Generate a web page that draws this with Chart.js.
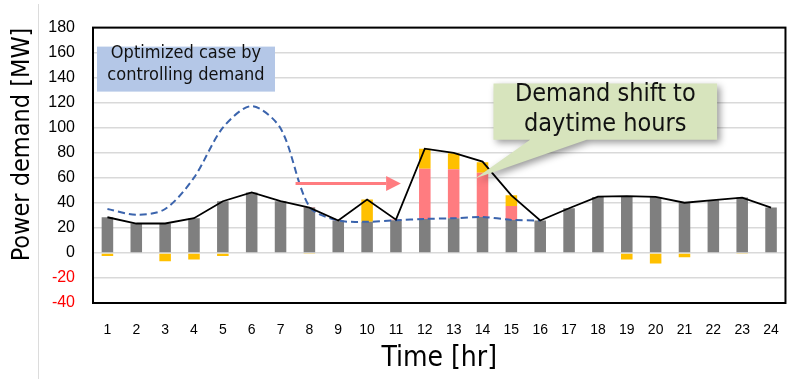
<!DOCTYPE html>
<html lang="en">
<head>
<meta charset="UTF-8" />
<title>Power demand - optimized case</title>
<script src="https://cdn.jsdelivr.net/npm/chart.js"></script>
<style>
  html, body { margin: 0; padding: 0; background: #fff; }
  #wrap { width: 798px; height: 379px; }
</style>
</head>
<body>
<div id="wrap"><canvas id="demandChart" width="798" height="379"></canvas></div>
<script>
  // values
  const hours = ['1','2','3','4','5','6','7','8','9','10','11','12','13','14','15','16','17','18','19','20','21','22','23','24'];
  const baseDemand = [28.5, 23.5, 23.5, 27.7, 41.3, 48.3, 41.3, 36.2, 25.9, 24.9, 26.1, 27.2, 27.7, 28.7, 26.4, 25.9, 35.7, 44.7, 45.2, 44.7, 40.1, 42.1, 44.2, 36.2];
  const shiftedDemand = [0, 0, 0, 0, 0, 0, 0, 0.4, 0.3, 0, 0.6, 40.1, 39.1, 35.3, 11.1, 0, 0, 0, 0, 0, 0, 0, 0, 0];
  const adjustDemand = [-2.5, 0, -6.7, -5.3, -2.5, 0, 0, -0.5, 0, 17.7, 0, 16.0, 12.9, 8.5, 8.5, 0, 0, 0, -5.3, -8.4, -3.5, 0, -0.5, 0];
  const optimizedDemand = [28.5, 23.5, 23.5, 27.7, 41.3, 48.3, 41.3, 36.2, 25.9, 42.6, 26.6, 83.3, 79.9, 73.0, 46.0, 25.9, 35.7, 45.0, 45.3, 44.7, 40.1, 42.1, 44.2, 36.2];
  const originalDemand = [35.1, 30.5, 35.1, 60.1, 100.0, 117.3, 99.5, 37.0, 26.0, 24.9, 26.1, 27.2, 27.7, 28.7, 26.4, 25.9, null, null, null, null, null, null, null, null];

  const yTitle = 'Power demand [MW]';
  const xTitle = 'Time [hr]';
  const caseLabel = ['Optimized case by', 'controlling demand'];
  const calloutLabel = ['Demand shift to', 'daytime hours'];

  const titleFont = "'DejaVu Sans Condensed', 'DejaVu Sans', sans-serif";
  const tickFont = "'Liberation Sans', Arial, sans-serif";

  // text boxes, arrow and plot frame
  const decorations = {
    id: 'decorations',
    beforeDraw(chart) {
      const ctx = chart.ctx;
      ctx.save();
      ctx.strokeStyle = '#dcdcdc';
      ctx.lineWidth = 1;
      ctx.beginPath();
      ctx.moveTo(38.5, 4);
      ctx.lineTo(38.5, 379);
      ctx.stroke();
      ctx.restore();
    },
    afterDatasetsDraw(chart) {
      const { ctx, chartArea: a, scales: { x, y } } = chart;
      ctx.save();

      // blue label box
      ctx.fillStyle = '#b4c7e7';
      ctx.fillRect(a.left + 4, a.top + 19, 178, 45);
      ctx.fillStyle = '#111';
      ctx.font = '18px ' + titleFont;
      ctx.textAlign = 'center';
      ctx.textBaseline = 'middle';
      ctx.fillText(caseLabel[0], a.left + 93, a.top + 26);
      ctx.fillText(caseLabel[1], a.left + 93, a.top + 48);

      // red arrow
      const ay = y.getPixelForValue(55.5);
      const ax0 = x.getPixelForValue(6.52);
      const ax1 = x.getPixelForValue(10.17);
      const axh = x.getPixelForValue(9.66);
      ctx.strokeStyle = '#ff7c80';
      ctx.fillStyle = '#ff7c80';
      ctx.lineWidth = 3;
      ctx.beginPath();
      ctx.moveTo(ax0, ay);
      ctx.lineTo(axh, ay);
      ctx.stroke();
      ctx.beginPath();
      ctx.moveTo(axh, ay - 7.5);
      ctx.lineTo(ax1, ay);
      ctx.lineTo(axh, ay + 7.5);
      ctx.closePath();
      ctx.fill();

      // green callout
      const bl = x.getPixelForValue(13.38), br = x.getPixelForValue(21.13);
      const bt = y.getPixelForValue(135.3), bb = y.getPixelForValue(90.5);
      const tipX = x.getPixelForValue(12.76), tipY = y.getPixelForValue(59.6);
      const p1 = x.getPixelForValue(14.65), p2 = x.getPixelForValue(16.61);
      ctx.save();
      ctx.shadowColor = 'rgba(0,0,0,0.4)';
      ctx.shadowBlur = 7;
      ctx.shadowOffsetX = 3;
      ctx.shadowOffsetY = 3;
      ctx.fillStyle = '#d7e4bd';
      ctx.beginPath();
      ctx.moveTo(bl, bt);
      ctx.lineTo(br, bt);
      ctx.lineTo(br, bb);
      ctx.lineTo(p2, bb);
      ctx.lineTo(tipX, tipY);
      ctx.lineTo(p1, bb);
      ctx.lineTo(bl, bb);
      ctx.closePath();
      ctx.fill();
      ctx.restore();
      ctx.fillStyle = '#111';
      ctx.font = '25px ' + titleFont;
      ctx.textAlign = 'center';
      ctx.textBaseline = 'middle';
      const cx = (bl + br) / 2;
      ctx.fillText(calloutLabel[0], cx, bt + 11);
      ctx.fillText(calloutLabel[1], cx, bt + 41);
      ctx.restore();
    },
    afterDraw(chart) {
      const { ctx, chartArea: a } = chart;
      ctx.save();
      ctx.strokeStyle = '#000';
      ctx.lineWidth = 2;
      ctx.strokeRect(a.left, a.top, a.right - a.left, a.bottom - a.top);
      ctx.restore();
    }
  };

  const ctx = document.getElementById('demandChart').getContext('2d');
  new Chart(ctx, {
    type: 'bar',
    data: {
      labels: hours,
      datasets: [
        {
          type: 'line',
          label: 'Optimized demand',
          data: optimizedDemand,
          borderColor: '#000000',
          borderWidth: 1.8,
          pointRadius: 0,
          tension: 0,
          stack: 'opt',
          order: 0
        },
        {
          type: 'line',
          label: 'Original demand',
          data: originalDemand,
          borderColor: '#3b64ad',
          borderWidth: 2,
          borderDash: [7, 4],
          pointRadius: 0,
          tension: 0.3,
          stack: 'orig',
          order: 0
        },
        {
          label: 'Base demand',
          data: baseDemand,
          backgroundColor: '#7f7f7f',
          stack: 'demand',
          order: 1
        },
        {
          label: 'Shifted demand',
          data: shiftedDemand,
          backgroundColor: '#ff7c80',
          stack: 'demand',
          order: 1
        },
        {
          label: 'Adjusted demand',
          data: adjustDemand,
          backgroundColor: '#ffc000',
          stack: 'demand',
          order: 1
        }
      ]
    },
    options: {
      responsive: false,
      animation: false,
      layout: { padding: { top: 18, right: 8, left: 0, bottom: 0 } },
      datasets: {
        bar: { categoryPercentage: 1, barPercentage: 0.4 }
      },
      plugins: {
        legend: { display: false },
        tooltip: { enabled: false }
      },
      scales: {
        x: {
          stacked: true,
          grid: { display: false, drawTicks: false },
          border: { display: false },
          ticks: {
            color: '#000',
            font: { family: tickFont, size: 14 },
            padding: 19,
            maxRotation: 0,
            autoSkip: false
          },
          title: {
            display: true,
            text: xTitle,
            color: '#000',
            font: { family: titleFont, size: 28 },
            padding: { top: 0, bottom: 3 }
          },
          afterFit(scale) { scale.height = 76; }
        },
        y: {
          stacked: true,
          min: -40,
          max: 180,
          grid: { color: '#d9d9d9', lineWidth: 1.5, drawTicks: false },
          border: { display: false },
          ticks: {
            stepSize: 20,
            padding: 18,
            font: { family: tickFont, size: 16 },
            color: (c) => (c.tick && c.tick.value < 0 ? '#ff0000' : '#000')
          },
          title: {
            display: true,
            text: yTitle,
            align: 'end',
            color: '#000',
            font: { family: titleFont, size: 25 },
            padding: { top: 7, bottom: 0 }
          },
          afterFit(scale) { scale.width = 93; }
        }
      }
    },
    plugins: [decorations]
  });
</script>
</body>
</html>
